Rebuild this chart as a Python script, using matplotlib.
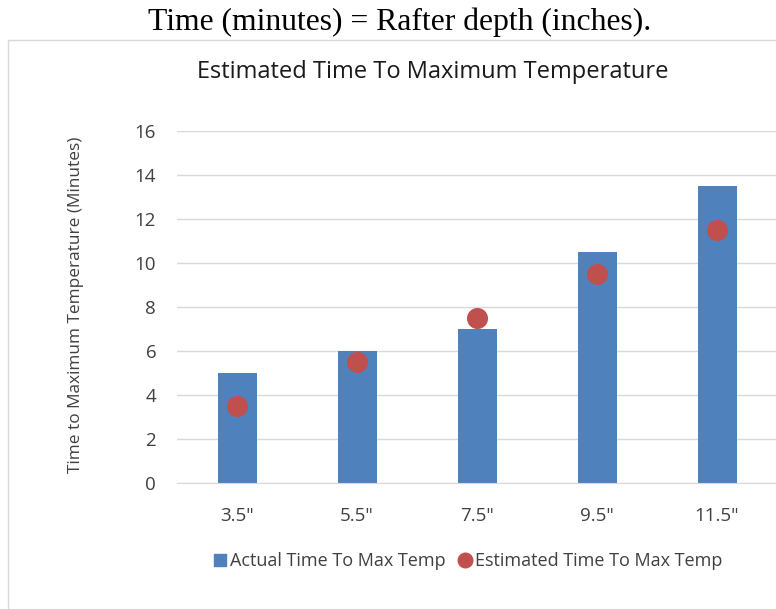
import matplotlib.pyplot as plt
from matplotlib.patches import Rectangle
from matplotlib.lines import Line2D

depths = ['3.5"', '5.5"', '7.5"', '9.5"', '11.5"']
actual = [5, 6, 7, 10.5, 13.5]
estimated = [3.5, 5.5, 7.5, 9.5, 11.5]

W, H = 776, 609
fig = plt.figure(figsize=(W / 100, H / 100), dpi=100)
font = "Open Sans"

# chart frame
fig.patches.append(Rectangle((8 / W, -0.01), 1, 1 - 40 / H + 0.01, transform=fig.transFigure,
                             fill=False, edgecolor="#d9d9d9", linewidth=1))

fig.text(400 / W, 1 - 22 / H, "Time (minutes) = Rafter depth (inches).", family="Liberation Serif",
         fontsize=22.8, ha="center", va="center")

ax = fig.add_axes([177 / W, 1 - 483 / H, 600 / W, 352 / H])
x = range(len(depths))
ax.bar(x, actual, width=0.325, color="#4F81BD", zorder=2)
ax.scatter(x, estimated, s=200, color="#C0504D", zorder=3)

ax.set_xlim(-0.5, 4.5)
ax.set_ylim(0, 16)
ax.set_yticks(range(0, 17, 2))
ax.set_xticks(list(x))
ax.set_xticklabels(depths)
ax.grid(axis="y", color="#d9d9d9", linewidth=1, zorder=0)
for s in ["top", "right", "left"]:
    ax.spines[s].set_visible(False)
ax.spines["bottom"].set_color("#d9d9d9")
ax.tick_params(length=0, labelsize=13.5, labelcolor="#404040")
ax.tick_params(axis="y", pad=15)
ax.tick_params(axis="x", pad=17)
for lab in ax.get_xticklabels() + ax.get_yticklabels():
    lab.set_family(font)

fig.text(433 / W, 1 - 72 / H, "Estimated Time To Maximum Temperature", family=font,
         fontsize=17, ha="center", va="center", color="#1a1a1a")
fig.text(76 / W, 1 - 305 / H, "Time to Maximum Temperature (Minutes)", family=font,
         fontsize=12.4, rotation=90, ha="center", va="center", color="#404040")

h1 = Line2D([], [], color="#4F81BD", marker="s", ls="", markersize=8.6, label="Actual Time To Max Temp")
h2 = Line2D([], [], color="#C0504D", marker="o", ls="", markersize=10.5, label="Estimated Time To Max Temp")
fig.legend(handles=[h1, h2], loc="center", bbox_to_anchor=(467 / W, 1 - 561 / H), ncol=2,
           frameon=False, prop={"family": font, "size": 13}, labelcolor="#404040",
           handletextpad=0.1, columnspacing=0.6, handlelength=0.9)

fig.savefig("out.png", dpi=100)
